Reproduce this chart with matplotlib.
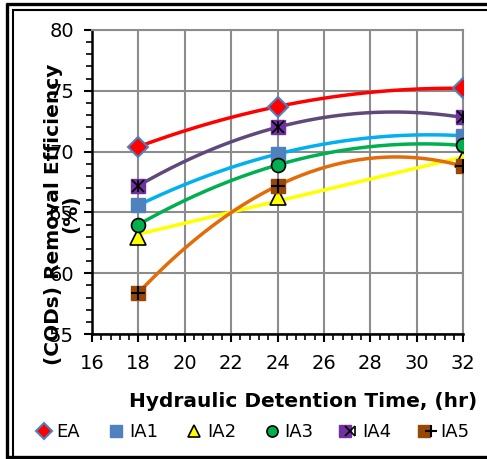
import numpy as np
import matplotlib
matplotlib.use("Agg")
import matplotlib.pyplot as plt
from matplotlib.lines import Line2D
from matplotlib.legend_handler import HandlerTuple

plt.rcParams['font.family'] = ['DejaVu Sans']

# Hydraulic detention time (hr)
hdt = [18, 24, 32]
# (CODs) removal efficiency (%)
ea = [70.4, 73.7, 75.2]
ia1 = [65.6, 69.8, 71.3]
ia2 = [63.0, 66.3, 69.4]
ia3 = [64.0, 68.9, 70.5]
ia4 = [67.2, 72.0, 72.8]
ia5 = [58.4, 67.2, 68.8]
names = ['EA', 'IA1', 'IA2', 'IA3', 'IA4', 'IA5']

W, H = 487, 459
fig = plt.figure(figsize=(W / 100, H / 100), dpi=100)
ax = fig.add_axes([0.189, 0.272, 0.762, 0.663])

xs = np.linspace(18, 32, 200)

def curve(y, deg=2):
	p = np.polyfit(hdt, y, deg)
	return np.polyval(p, xs)

# smooth lines
ax.plot(xs, curve(ea), color='#FF0000', lw=2.5, zorder=3)
ax.plot(xs, curve(ia4), color='#5F497A', lw=2.5, zorder=3)
ax.plot(xs, curve(ia1), color='#00B0F0', lw=2.5, zorder=3)
ax.plot(xs, curve(ia3), color='#00B050', lw=2.5, zorder=3)
ax.plot(xs, curve(ia2, 1), color='#FFFF00', lw=2.5, zorder=3)
ax.plot(xs, curve(ia5), color='#E36C09', lw=2.5, zorder=3)

# markers
h_ea, = ax.plot(hdt, ea, 'D', ms=10, mfc='#FF0000', mec='#4F81BD', mew=1.5, ls='none', zorder=5)
h_ia1, = ax.plot(hdt, ia1, 's', ms=10, mfc='#4F81BD', mec='#4F81BD', ls='none', zorder=5)
h_ia2, = ax.plot(hdt, ia2, '^', ms=11, mfc='#FFFF00', mec='black', mew=1.2, ls='none', zorder=5)
h_ia3, = ax.plot(hdt, ia3, 'o', ms=10, mfc='#00B050', mec='black', mew=1.2, ls='none', zorder=5)
h_ia4a, = ax.plot(hdt, ia4, 's', ms=10, mfc='#7030A0', mec='#7030A0', ls='none', zorder=5)
h_ia4b, = ax.plot(hdt, ia4, 'x', ms=9, mec='black', mew=1.2, ls='none', zorder=6)
h_ia4c, = ax.plot(hdt, ia4, '|', ms=9, mec='black', mew=1.2, ls='none', zorder=6)
h_ia5a, = ax.plot(hdt, ia5, 's', ms=10, mfc='#974706', mec='#974706', ls='none', zorder=5)
h_ia5b, = ax.plot(hdt, ia5, '+', ms=10, mec='black', mew=1.5, ls='none', zorder=6)

ax.set_xlim(16, 32)
ax.set_ylim(55, 80)
ax.set_xticks(np.arange(16, 33, 2))
ax.set_yticks(np.arange(55, 81, 5))
ax.set_xticks(np.arange(16, 32.01, 0.4), minor=True)
ax.set_yticks(np.arange(55, 80.01, 1), minor=True)
ax.grid(True, which='major', color='#8c8c8c', lw=1.5)
ax.set_axisbelow(True)
ax.tick_params(which='major', direction='out', length=6, width=1.5, labelsize=14, color='black')
ax.tick_params(axis='x', which='major', pad=8)
ax.tick_params(axis='y', which='major', pad=7)
ax.tick_params(which='minor', direction='out', length=4, width=1.2, color='black')
for s in ['top', 'right']:
	ax.spines[s].set_color('#8c8c8c')
	ax.spines[s].set_linewidth(1.5)
for s in ['left', 'bottom']:
	ax.spines[s].set_color('black')
	ax.spines[s].set_linewidth(1.8)

ax.set_xlabel('Hydraulic Detention Time, (hr)', fontsize=14.5, fontweight='bold')
ax.xaxis.set_label_coords(0.57, -0.19)
fig.text(0.128, 0.534, '(CODs) Removal Efficiency\n(%)', rotation=90, fontsize=14.5,
	fontweight='bold', ha='center', va='center', multialignment='center', linespacing=0.85)

handles = [h_ea, h_ia1, h_ia2, h_ia3, (h_ia4a, h_ia4b, h_ia4c), (h_ia5a, h_ia5b)]
fig.legend(handles, names, loc='center', bbox_to_anchor=(0.52, 0.058), ncol=6,
	frameon=False, fontsize=13, handlelength=0.8, handletextpad=0.3, columnspacing=1.6,
	markerscale=0.8, handler_map={tuple: HandlerTuple(ndivide=None, pad=0)})

# chart-area frame: double line top/left, single at bottom, open on the right
def seg(x0, y0, x1, y1, lw):
	fig.add_artist(Line2D([x0 / W, x1 / W], [1 - y0 / H, 1 - y1 / H],
		transform=fig.transFigure, color='black', lw=lw, solid_capstyle='butt'))

seg(6, 4, W, 4, 2.4)
seg(12, 9.5, W, 9.5, 1.5)
seg(7, 3, 7, H, 2.4)
seg(13, 9, 13, 457, 1.5)
seg(7, 456.5, W, 456.5, 2.4)

fig.savefig('out.png', dpi=100)
